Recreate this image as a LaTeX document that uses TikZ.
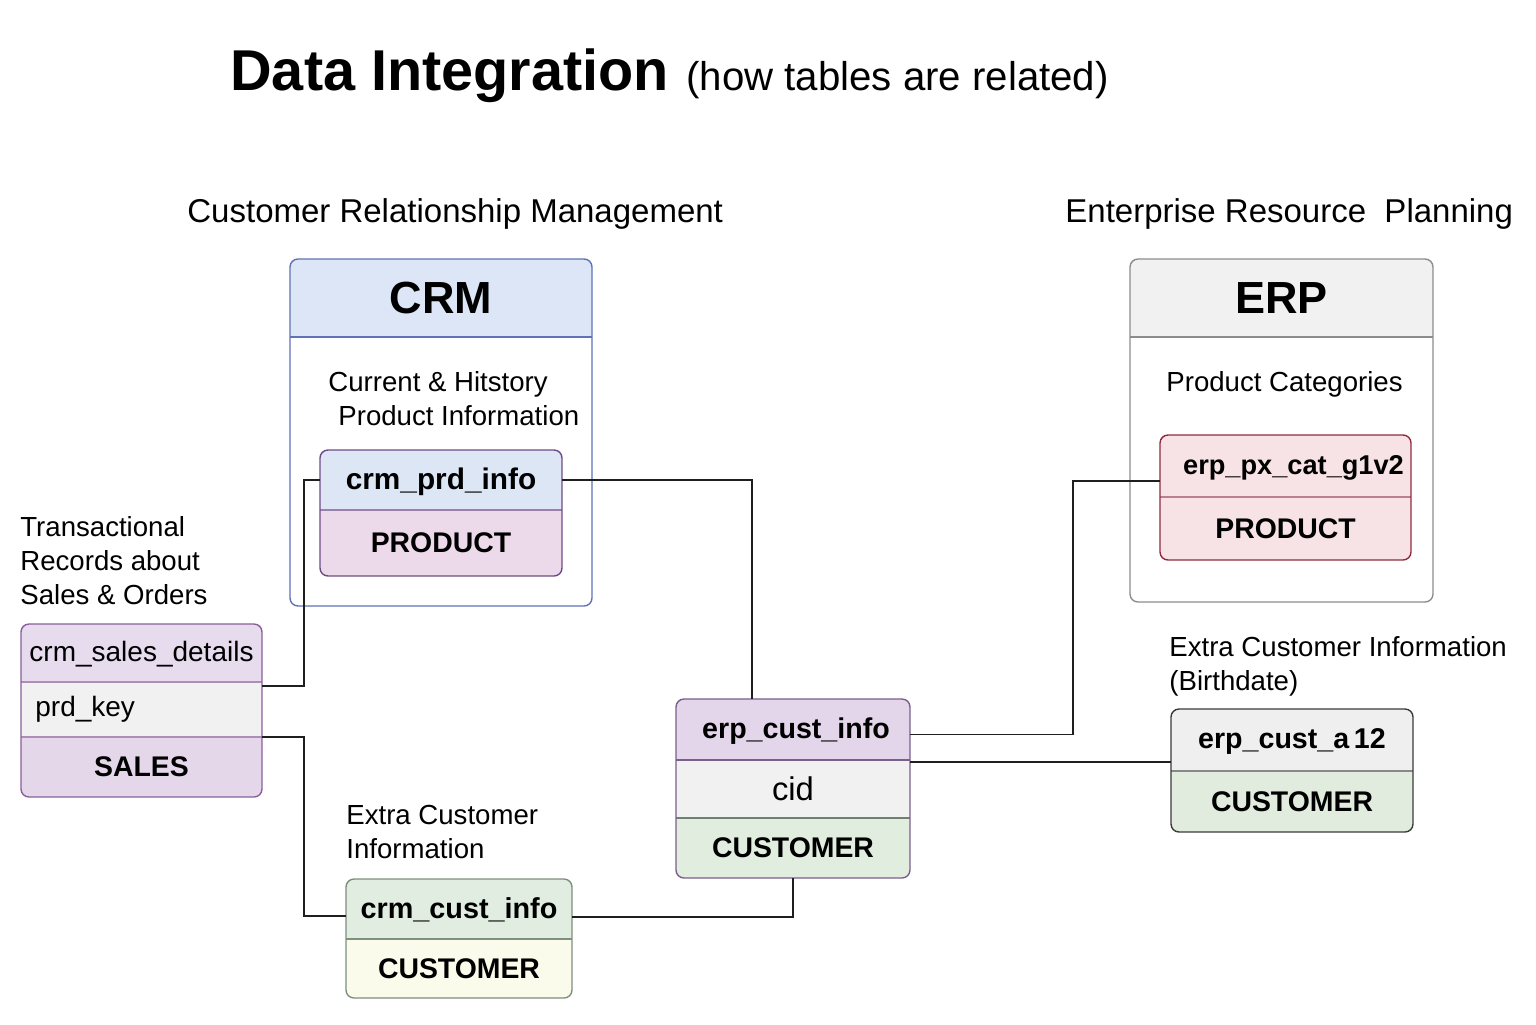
\documentclass[tikz,border=0pt]{standalone}
\usepackage{fontspec}
\setmainfont{Liberation Sans}
\usetikzlibrary{calc}
\definecolor{crmB}{HTML}{5F72B5}
\definecolor{crmH}{HTML}{DCE6F6}
\definecolor{prdB}{HTML}{6E4A86}
\definecolor{prdH}{HTML}{DCE6F5}
\definecolor{prdP}{HTML}{ECDAEB}
\definecolor{erpB}{HTML}{8C8C8C}
\definecolor{erpH}{HTML}{F1F1F1}
\definecolor{pxB}{HTML}{8E2B3E}
\definecolor{pxF}{HTML}{F7E2E5}
\definecolor{salB}{HTML}{8B5E9B}
\definecolor{salA}{HTML}{E7DBEE}
\definecolor{salM}{HTML}{F1F1F1}
\definecolor{salC}{HTML}{E4D7EA}
\definecolor{ccBd}{HTML}{7D8F7D}
\definecolor{ccA}{HTML}{E1EDE0}
\definecolor{ccC}{HTML}{FBFBEC}
\definecolor{eciB}{HTML}{7A5E8C}
\definecolor{eciA}{HTML}{E4D6EA}
\definecolor{eciM}{HTML}{F1F1F1}
\definecolor{eciC}{HTML}{E1EDDF}
\definecolor{eciG}{HTML}{6E806E}
\definecolor{aB}{HTML}{3A3A3A}
\definecolor{aA}{HTML}{EFEFEF}
\definecolor{aC}{HTML}{E1ECDF}
\newcommand{\fsz}[1]{\fontsize{#1}{#1}\selectfont}
\tikzset{
  rowbox/.style={inner sep=0pt, outer sep=0pt, anchor=north west},
  frame/.style={rounded corners=4pt, line width=0.7pt},
  link/.style={line width=0.75pt, draw=black!88},
  lbl/.style={inner sep=0pt, anchor=base west, align=left},
  bodytxt/.style={font=\fontsize{13.8pt}{17pt}\selectfont},
}
\begin{document}
\begin{tikzpicture}[x=0.5pt,y=-0.5pt]
\useasboundingbox (0,0) rectangle (1536,1024);

% titles
\node[lbl, font=\fsz{28.8pt}\bfseries] (title) at (230,90) {Data Integration};
\node[lbl, font=\fsz{20.1pt}] (subtitle) at (686,90) {(how tables are related)};
\node[lbl, font=\fsz{16.5pt}] (crmtitle) at (187,222) {Customer Relationship Management};
\node[lbl, font=\fsz{16.5pt}] (erptitle) at (1065,222) {Enterprise Resource~ Planning};

% ---------- CRM container ----------
\node[rowbox, minimum width=151pt, minimum height=173.5pt] (crm) at (290,259) {};
\begin{scope}
  \clip[rounded corners=4pt] (crm.north west) rectangle (crm.south east);
  \node[rowbox, fill=crmH, minimum width=151pt, minimum height=39pt, font=\fsz{22.5pt}\bfseries] (crmh) at (290,259) {CRM};
\end{scope}
\draw[crmB, line width=0.7pt] (crmh.south west) -- (crmh.south east);
\draw[frame, draw=crmB] (crm.north west) rectangle (crm.south east);
\node[lbl, bodytxt] (crmdesc) at (328,425) {Current \& Hitstory\\\hspace*{5pt}Product Information};

% crm_prd_info
\node[rowbox, minimum width=121pt, minimum height=63pt] (prd) at (320,450) {};
\begin{scope}
  \clip[rounded corners=4pt] (prd.north west) rectangle (prd.south east);
  \node[rowbox, fill=prdH, minimum width=121pt, minimum height=30pt] (prdh) at (320,450) {};
  \node[font=\fsz{14.9pt}\bfseries, inner sep=0pt] at ([yshift=-1pt]prdh.center) {crm\_prd\_info};
  \node[rowbox, fill=prdP, minimum width=121pt, minimum height=33pt, font=\fsz{14.2pt}\bfseries] (prdp) at (prdh.south west) {PRODUCT};
\end{scope}
\draw[prdB!70, line width=0.7pt] (prdh.south west) -- (prdh.south east);
\draw[frame, draw=prdB] (prd.north west) rectangle (prd.south east);

% ---------- ERP container ----------
\node[rowbox, minimum width=151.5pt, minimum height=171.5pt] (erp) at (1130,259) {};
\begin{scope}
  \clip[rounded corners=4pt] (erp.north west) rectangle (erp.south east);
  \node[rowbox, fill=erpH, minimum width=151.5pt, minimum height=39pt, font=\fsz{22.5pt}\bfseries] (erph) at (1130,259) {ERP};
\end{scope}
\draw[erpB, line width=0.7pt] (erph.south west) -- (erph.south east);
\draw[frame, draw=erpB] (erp.north west) rectangle (erp.south east);
\node[lbl, bodytxt] (erpdesc) at (1166,391) {Product Categories};

% erp_px_cat_g1v2
\node[rowbox, minimum width=125.5pt, minimum height=62.5pt] (px) at (1160,435) {};
\begin{scope}
  \clip[rounded corners=4pt] (px.north west) rectangle (px.south east);
  \node[rowbox, fill=pxF, minimum width=125.5pt, minimum height=31pt] (pxh) at (1160,435) {};
  \node[font=\fsz{13.6pt}\bfseries, inner sep=0pt] at ([xshift=4pt,yshift=-1pt]pxh.center) {erp\_px\_cat\_g1v2};
  \node[rowbox, fill=pxF, minimum width=125.5pt, minimum height=31.5pt, font=\fsz{14.2pt}\bfseries] (pxp) at (pxh.south west) {PRODUCT};
\end{scope}
\draw[pxB!60, line width=0.7pt] (pxh.south west) -- (pxh.south east);
\draw[frame, draw=pxB] (px.north west) rectangle (px.south east);

% ---------- crm_sales_details ----------
\node[lbl, bodytxt] (saldesc) at (20,604) {Transactional\\Records about\\Sales \& Orders};
\node[rowbox, minimum width=120.5pt, minimum height=86.5pt] (sal) at (21,624) {};
\begin{scope}
  \clip[rounded corners=4pt] (sal.north west) rectangle (sal.south east);
  \node[rowbox, fill=salA, minimum width=120.5pt, minimum height=29pt] (sala) at (21,624) {};
  \node[font=\fsz{14pt}, inner sep=0pt] at ([yshift=-0.5pt]sala.center) {crm\_sales\_details};
  \node[rowbox, fill=salM, minimum width=120.5pt, minimum height=27.5pt] (salm) at (sala.south west) {};
  \node[anchor=west, inner sep=0pt, font=\fsz{14pt}] at ([xshift=7pt]salm.west) {prd\_key};
  \node[rowbox, fill=salC, minimum width=120.5pt, minimum height=30pt, font=\fsz{14.2pt}\bfseries] (salc) at (salm.south west) {SALES};
\end{scope}
\draw[salB!70, line width=0.7pt] (sala.south west) -- (sala.south east);
\draw[salB!70, line width=0.7pt] (salm.south west) -- (salm.south east);
\draw[frame, draw=salB] (sal.north west) rectangle (sal.south east);

% ---------- crm_cust_info ----------
\node[lbl, bodytxt] (ccdesc) at (346,858) {Extra Customer\\Information};
\node[rowbox, minimum width=113pt, minimum height=59.5pt] (cc) at (346,879) {};
\begin{scope}
  \clip[rounded corners=4pt] (cc.north west) rectangle (cc.south east);
  \node[rowbox, fill=ccA, minimum width=113pt, minimum height=30pt] (cch) at (346,879) {};
  \node[font=\fsz{14.4pt}\bfseries, inner sep=0pt] at ([yshift=-0.5pt]cch.center) {crm\_cust\_info};
  \node[rowbox, fill=ccC, minimum width=113pt, minimum height=29.5pt, font=\fsz{14.2pt}\bfseries] (ccc) at (cch.south west) {CUSTOMER};
\end{scope}
\draw[ccBd, line width=0.7pt] (cch.south west) -- (cch.south east);
\draw[frame, draw=ccBd] (cc.north west) rectangle (cc.south east);

% ---------- erp_cust_info ----------
\node[rowbox, minimum width=117pt, minimum height=89.5pt] (eci) at (676,699) {};
\begin{scope}
  \clip[rounded corners=4pt] (eci.north west) rectangle (eci.south east);
  \node[rowbox, fill=eciA, minimum width=117pt, minimum height=30.5pt] (ecia) at (676,699) {};
  \node[font=\fsz{14.3pt}\bfseries, inner sep=0pt] at ([xshift=1.5pt,yshift=-1pt]ecia.center) {erp\_cust\_info};
  \node[rowbox, fill=eciM, minimum width=117pt, minimum height=29pt, font=\fsz{16.4pt}] (ecim) at (ecia.south west) {cid};
  \node[rowbox, fill=eciC, minimum width=117pt, minimum height=30pt, font=\fsz{14.2pt}\bfseries] (ecic) at (ecim.south west) {CUSTOMER};
\end{scope}
\draw[eciB, line width=0.7pt] (ecia.south west) -- (ecia.south east);
\draw[eciG, line width=0.7pt] (ecim.south west) -- (ecim.south east);
\draw[frame, draw=eciB] (eci.north west) rectangle (eci.south east);

% ---------- erp_cust_a12 ----------
\node[lbl, bodytxt] (a12desc) at (1169,690) {Extra Customer Information\\(Birthdate)};
\node[rowbox, minimum width=121pt, minimum height=61.5pt] (a12) at (1171,709) {};
\begin{scope}
  \clip[rounded corners=4pt] (a12.north west) rectangle (a12.south east);
  \node[rowbox, fill=aA, minimum width=121pt, minimum height=31pt] (a12h) at (1171,709) {};
  \node[font=\fsz{14.3pt}\bfseries, inner sep=0pt] at ([yshift=-0.5pt]a12h.center) {erp\_cust\_a\,12};
  \node[rowbox, fill=aC, minimum width=121pt, minimum height=30.5pt, font=\fsz{14.2pt}\bfseries] (a12c) at (a12h.south west) {CUSTOMER};
\end{scope}
\draw[aB!60, line width=0.7pt] (a12h.south west) -- (a12h.south east);
\draw[frame, draw=aB] (a12.north west) rectangle (a12.south east);

% ---------- connectors ----------
\draw[link] ([yshift=-2pt]salm.north east) -- ++(42,0) |- (prdh.west);
\draw[link] (salm.south east) -- ++(42,0) |- ([yshift=-3.5pt]cch.west);
\draw[link] (prdh.east) -| ([xshift=-20.5pt]ecia.north);
\draw[link] ([yshift=-4pt]cch.east) -| (ecic.south);
\draw[link] ([yshift=-2.5pt]ecia.east) -- ++(163,0) |- ([yshift=-7.5pt]pxh.west);
\coordinate (e6) at ([yshift=-1pt]ecim.north east);
\draw[link] (e6) -- (e6 -| a12h.west);
\end{tikzpicture}
\end{document}
